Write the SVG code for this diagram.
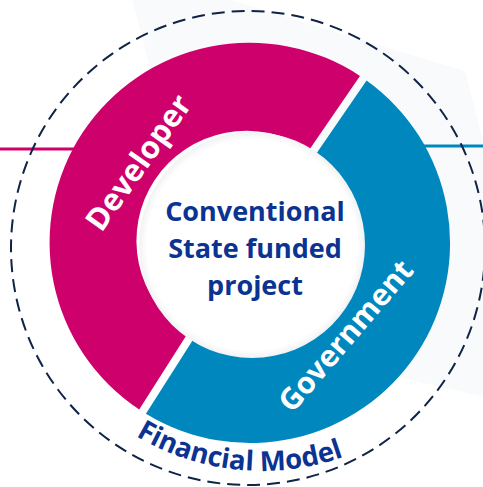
<svg xmlns="http://www.w3.org/2000/svg" width="483" height="487" viewBox="0 0 483 487">
  <style>
    .seg-dev { fill: #CE006B; }
    .seg-gov { fill: #0087BE; }
    .lbl-white { fill: #FFFFFF; font-family: "Open Sans", "Noto Sans", sans-serif; font-weight: 700; text-anchor: middle; }
    .lbl-navy { fill: #0B3391; font-family: "Open Sans", "Noto Sans", sans-serif; font-weight: 700; }
    .center-txt { font-size: 27px; text-anchor: middle; }
    .fm-txt { font-size: 27.5px; }
    .dash { fill: none; stroke: #0F2347; stroke-width: 2; stroke-dasharray: 13 7; }
    .conn-dev { stroke: #CE006B; stroke-width: 3; fill: none; }
    .conn-gov { stroke: #0087BE; stroke-width: 3; fill: none; }
  </style>
  <defs>
    <radialGradient id="innerShade" cx="0.5" cy="0.5" r="0.5">
      <stop offset="0.93" stop-color="#FFFFFF"/>
      <stop offset="1" stop-color="#F1F2F4"/>
    </radialGradient>
    <path id="fmArc" d="M 17 226 A 245 245 0 0 0 507 226"/>
  </defs>

  <rect width="483" height="487" fill="#FFFFFF"/>
  <g id="background">
    <polygon points="124,-32 465,71 554,413 220,336" fill="#F9FAFB"/>
  </g>

  <g id="connectors">
    <line class="conn-dev" x1="0" y1="149" x2="76" y2="149"/>
    <line class="conn-gov" x1="420" y1="146" x2="483" y2="146"/>
  </g>

  <g id="node-financial-model">
    <circle class="dash" cx="248" cy="248" r="237"/>
    <text class="lbl-navy fm-txt"><textPath href="#fmArc" startOffset="46.8%" text-anchor="middle">Financial Model</textPath></text>
  </g>

  <g id="node-developer">
    <path class="seg-dev" d="M 139.19 409.50 A 200 200 0 1 1 359.96 75.94 L 308.96 150.14 A 110 110 0 1 0 187.56 333.56 Z"/>
    <text class="lbl-white" font-size="31" transform="translate(139 163) rotate(-54.7)" x="0" y="10">Developer</text>
  </g>

  <g id="node-government">
    <path class="seg-gov" d="M 366.56 80.48 A 200 200 0 0 1 145.93 413.80 L 194.30 337.86 A 110 110 0 0 0 315.56 154.68 Z"/>
    <text class="lbl-white" font-size="30" transform="translate(346 336) rotate(-49.4)" x="0" y="10">Government</text>
  </g>

  <g id="node-center">
    <circle cx="252" cy="245" r="113" fill="url(#innerShade)"/>
    <text class="lbl-navy center-txt" x="255" y="221">Conventional</text>
    <text class="lbl-navy center-txt" x="255" y="258">State funded</text>
    <text class="lbl-navy center-txt" x="255" y="295">project</text>
  </g>
</svg>
